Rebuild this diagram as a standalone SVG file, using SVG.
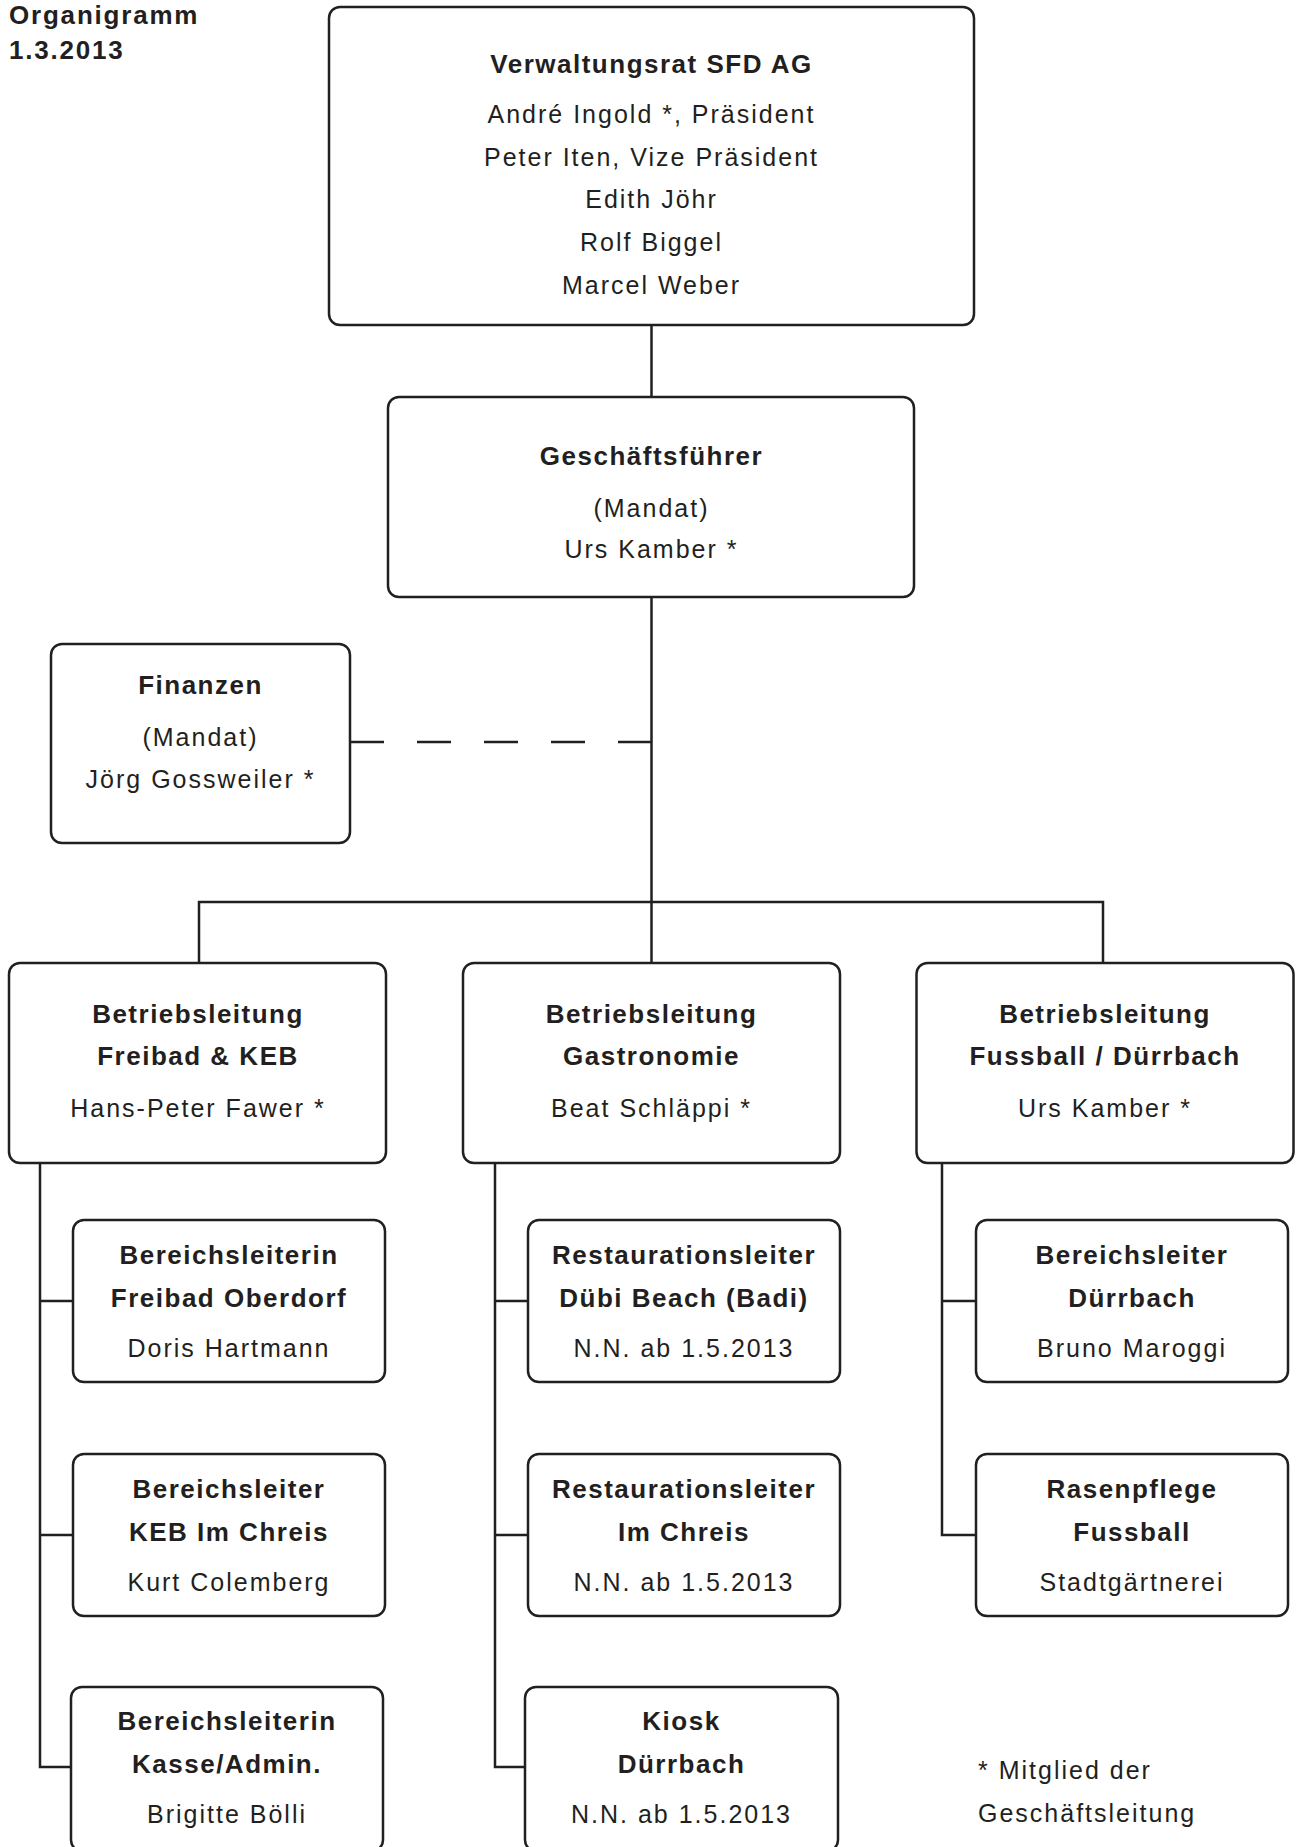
<svg xmlns="http://www.w3.org/2000/svg" width="1297" height="1847" viewBox="0 0 1297 1847">
<style>
.box{fill:#fff;stroke:#231f20;stroke-width:2.5}
.ln{fill:none;stroke:#231f20;stroke-width:2.5}
.dash{stroke-dasharray:34 33}
text{font-family:"Liberation Sans",Arial,sans-serif;font-size:25px;fill:#231f20;letter-spacing:2px}
.c{text-anchor:middle}
.b{font-weight:bold;font-size:26px;letter-spacing:1.5px}
.h{font-weight:bold;font-size:26px;letter-spacing:1.8px}
</style>
<rect width="1297" height="1847" fill="#fff"/>
<g id="title">
<text class="h" x="9" y="24">Organigramm</text>
<text class="h" x="9" y="59">1.3.2013</text>
</g>
<g id="connectors">
<path class="ln" d="M651.5 325V397M651.5 597V963M199 963V902H1103V963"/>
<path class="ln dash" d="M350 742H651.5"/>
<path class="ln" d="M40 1163V1767H71M40 1301H73M40 1535H73"/>
<path class="ln" d="M495 1163V1767H525M495 1301H528M495 1535H528"/>
<path class="ln" d="M942 1163V1535H976M942 1301H976"/>
</g>
<g id="verwaltungsrat">
<rect class="box" x="329" y="7" width="645" height="318" rx="11"/>
<text class="c b" x="651.5" y="73">Verwaltungsrat SFD AG</text>
<text class="c" x="651.5" y="123">André Ingold *, Präsident</text>
<text class="c" x="651.5" y="166">Peter Iten, Vize Präsident</text>
<text class="c" x="651.5" y="208">Edith Jöhr</text>
<text class="c" x="651.5" y="251">Rolf Biggel</text>
<text class="c" x="651.5" y="294">Marcel Weber</text>
</g>
<g id="geschaeftsfuehrer">
<rect class="box" x="388" y="397" width="526" height="200" rx="11"/>
<text class="c b" x="651.5" y="465">Geschäftsführer</text>
<text class="c" x="651.5" y="517">(Mandat)</text>
<text class="c" x="651.5" y="558">Urs Kamber *</text>
</g>
<g id="finanzen">
<rect class="box" x="51" y="644" width="299" height="199" rx="11"/>
<text class="c b" x="200.5" y="694">Finanzen</text>
<text class="c" x="200.5" y="746">(Mandat)</text>
<text class="c" x="200.5" y="788">Jörg Gossweiler *</text>
</g>
<g id="bl-freibad">
<rect class="box" x="9" y="963" width="377" height="200" rx="11"/>
<text class="c b" x="198" y="1023">Betriebsleitung</text>
<text class="c b" x="198" y="1065">Freibad &amp; KEB</text>
<text class="c" x="198" y="1117">Hans-Peter Fawer *</text>
</g>
<g id="bl-gastro">
<rect class="box" x="463" y="963" width="377" height="200" rx="11"/>
<text class="c b" x="651.5" y="1023">Betriebsleitung</text>
<text class="c b" x="651.5" y="1065">Gastronomie</text>
<text class="c" x="651.5" y="1117">Beat Schläppi *</text>
</g>
<g id="bl-fussball">
<rect class="box" x="916.5" y="963" width="377" height="200" rx="11"/>
<text class="c b" x="1105" y="1023">Betriebsleitung</text>
<text class="c b" x="1105" y="1065">Fussball / Dürrbach</text>
<text class="c" x="1105" y="1117">Urs Kamber *</text>
</g>
<g id="freibad-oberdorf">
<rect class="box" x="73" y="1220" width="312" height="162" rx="11"/>
<text class="c b" x="229" y="1264">Bereichsleiterin</text>
<text class="c b" x="229" y="1307">Freibad Oberdorf</text>
<text class="c" x="229" y="1357">Doris Hartmann</text>
</g>
<g id="keb-im-chreis">
<rect class="box" x="73" y="1454" width="312" height="162" rx="11"/>
<text class="c b" x="229" y="1498">Bereichsleiter</text>
<text class="c b" x="229" y="1541">KEB Im Chreis</text>
<text class="c" x="229" y="1591">Kurt Colemberg</text>
</g>
<g id="kasse-admin">
<rect class="box" x="71" y="1687" width="312" height="164" rx="11"/>
<text class="c b" x="227" y="1730">Bereichsleiterin</text>
<text class="c b" x="227" y="1773">Kasse/Admin.</text>
<text class="c" x="227" y="1823">Brigitte Bölli</text>
</g>
<g id="duebi-beach">
<rect class="box" x="528" y="1220" width="312" height="162" rx="11"/>
<text class="c b" x="684" y="1264">Restaurationsleiter</text>
<text class="c b" x="684" y="1307">Dübi Beach (Badi)</text>
<text class="c" x="684" y="1357">N.N. ab 1.5.2013</text>
</g>
<g id="resto-im-chreis">
<rect class="box" x="528" y="1454" width="312" height="162" rx="11"/>
<text class="c b" x="684" y="1498">Restaurationsleiter</text>
<text class="c b" x="684" y="1541">Im Chreis</text>
<text class="c" x="684" y="1591">N.N. ab 1.5.2013</text>
</g>
<g id="kiosk">
<rect class="box" x="525" y="1687" width="313" height="164" rx="11"/>
<text class="c b" x="681.5" y="1730">Kiosk</text>
<text class="c b" x="681.5" y="1773">Dürrbach</text>
<text class="c" x="681.5" y="1823">N.N. ab 1.5.2013</text>
</g>
<g id="bereich-duerrbach">
<rect class="box" x="976" y="1220" width="312" height="162" rx="11"/>
<text class="c b" x="1132" y="1264">Bereichsleiter</text>
<text class="c b" x="1132" y="1307">Dürrbach</text>
<text class="c" x="1132" y="1357">Bruno Maroggi</text>
</g>
<g id="rasenpflege">
<rect class="box" x="976" y="1454" width="312" height="162" rx="11"/>
<text class="c b" x="1132" y="1498">Rasenpflege</text>
<text class="c b" x="1132" y="1541">Fussball</text>
<text class="c" x="1132" y="1591">Stadtgärtnerei</text>
</g>
<g id="legend">
<text x="978" y="1779">* Mitglied der</text>
<text x="978" y="1822">Geschäftsleitung</text>
</g>
</svg>
